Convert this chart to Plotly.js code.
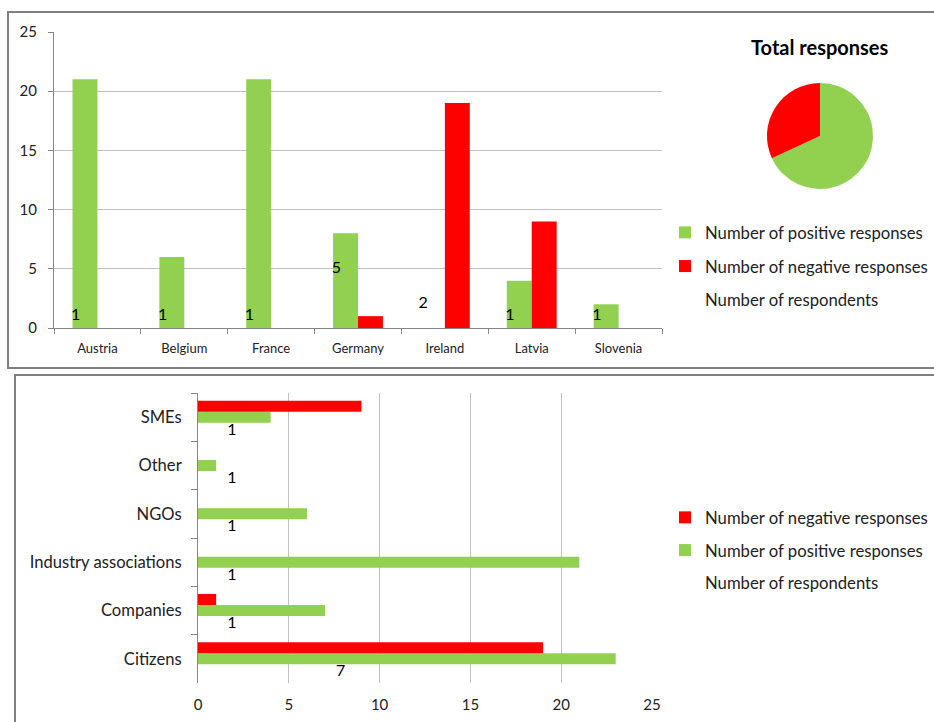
<!DOCTYPE html>
<html>
<head>
<meta charset="utf-8">
<script src="https://cdn.plot.ly/plotly-3.0.1.min.js"></script>
<style>
html,body{margin:0;padding:0;background:#fff;}
#chart{width:934px;height:722px;}
</style>
</head>
<body>
<div id="chart"></div>
<script>
// ---- Data: top chart (by country) ----
const countries = ["Austria","Belgium","France","Germany","Ireland","Latvia","Slovenia"];
const countryPositive = [21, 6, 21, 8, 0, 4, 2];
const countryNegative = [0, 0, 0, 1, 19, 9, 0];
const countryRespondents = [1, 1, 1, 5, 2, 1, 1];

// ---- Data: bottom chart (by stakeholder type) ----
const groups = ["Citizens","Companies","Industry associations","NGOs","Other","SMEs"];
const groupPositive = [23, 7, 21, 6, 1, 4];
const groupNegative = [19, 1, 0, 0, 0, 9];
const groupRespondents = [7, 1, 1, 1, 1, 1];

// ---- Labels ----
const posName = "Number of positive responses";
const negName = "Number of negative responses";
const respName = "Number of respondents";
const pieTitle = "Total responses";
const yTicks = [0, 5, 10, 15, 20, 25];

// ---- Styles ----
const GREEN = "#92D050", RED = "#FF0000";
const FONT = "Lato, 'Liberation Sans', Arial, sans-serif";
const W = 934, H = 722;
const px = v => v / W, py = v => 1 - v / H;

const totalPos = countryPositive.reduce((a, b) => a + b, 0);
const totalNeg = countryNegative.reduce((a, b) => a + b, 0);

const topW = 0.287, botW = 0.228;
const labelShift = -0.25;

const traces = [
  // top chart
  {type:"bar", x:countries, y:countryPositive, name:posName, marker:{color:GREEN},
   width:topW, offset:-topW, xaxis:"x", yaxis:"y", legend:"legend", legendgroup:"a", legendrank:1, hoverinfo:"y"},
  {type:"bar", x:countries, y:countryNegative, name:negName, marker:{color:RED},
   width:topW, offset:0, xaxis:"x", yaxis:"y", legend:"legend", legendgroup:"b", legendrank:2, hoverinfo:"y"},
  {type:"scatter", mode:"text", x:countries.map((c, i) => i + labelShift), y:countryRespondents,
   text:countryRespondents.map(String), textposition:"middle center",
   textfont:{size:16, color:"#000", family:FONT}, xaxis:"x3", yaxis:"y", showlegend:false, cliponaxis:false, hoverinfo:"text"},
  {type:"scatter", mode:"markers", x:[null], y:[null], name:respName,
   marker:{color:"rgba(0,0,0,0)", size:1}, xaxis:"x3", yaxis:"y", legend:"legend", legendgroup:"c", legendrank:3},
  // pie
  {type:"pie", labels:[posName, negName], values:[totalPos, totalNeg],
   marker:{colors:[GREEN, RED]}, sort:false, direction:"clockwise", rotation:0,
   textinfo:"none", showlegend:false,
   domain:{x:[px(767), px(873)], y:[py(189), py(83)]}},
  // bottom chart
  {type:"bar", orientation:"h", y:groups, x:groupRespondents, name:respName,
   marker:{color:"rgba(0,0,0,0)"}, width:botW, offset:-1.5*botW,
   text:groupRespondents.map(String), texttemplate:"\u2002%{text}",
   textposition:"outside", cliponaxis:false, constraintext:"none",
   textfont:{size:16, color:"#000", family:FONT},
   outsidetextfont:{size:16, color:"#000", family:FONT},
   xaxis:"x2", yaxis:"y2", legend:"legend2", legendgroup:"r", legendrank:3, hoverinfo:"x"},
  {type:"bar", orientation:"h", y:groups, x:groupPositive, name:posName,
   marker:{color:GREEN}, width:botW, offset:-0.5*botW,
   xaxis:"x2", yaxis:"y2", legend:"legend2", legendgroup:"p", legendrank:2, hoverinfo:"x"},
  {type:"bar", orientation:"h", y:groups, x:groupNegative, name:negName,
   marker:{color:RED}, width:botW, offset:0.5*botW,
   xaxis:"x2", yaxis:"y2", legend:"legend2", legendgroup:"n", legendrank:1, hoverinfo:"x"}
];

const gridC = "#c0c0c0", axisC = "#868686";

const layout = {
  width:W, height:H,
  margin:{l:0, r:0, t:0, b:0},
  paper_bgcolor:"#fff", plot_bgcolor:"rgba(0,0,0,0)",
  font:{family:FONT, color:"#000", size:15},
  barmode:"group",
  showlegend:true,
  xaxis:{domain:[px(54), px(662)], anchor:"y", type:"category", automargin:false,
    tickson:"boundaries", ticks:"outside", ticklen:5, tickcolor:axisC,
    showline:true, linecolor:axisC, linewidth:1, showgrid:false, ticklabelstandoff:8,
    tickfont:{size:13, color:"#222"}, range:[-0.5, countries.length - 0.5], fixedrange:true},
  xaxis3:{overlaying:"x", anchor:"y", type:"linear", range:[-0.5, countries.length - 0.5],
    visible:false, domain:[px(54), px(662)], fixedrange:true},
  yaxis:{domain:[py(328), py(32)], anchor:"x", range:[0, 25], tickvals:yTicks, automargin:false,
    ticks:"outside", ticklen:5, tickcolor:axisC, showline:true, linecolor:axisC, linewidth:1,
    showgrid:true, gridcolor:gridC, gridwidth:1, zeroline:false, ticklabelstandoff:8,
    tickfont:{size:15, color:"#222"}, fixedrange:true},
  xaxis2:{domain:[px(198), px(652)], anchor:"y2", range:[0, 25], tickvals:yTicks, automargin:false,
    showgrid:true, gridcolor:gridC, gridwidth:1, zeroline:false, showline:false, ticks:"",
    tickfont:{size:15, color:"#222"}, ticklabelstandoff:11, fixedrange:true},
  yaxis2:{domain:[py(683), py(393)], anchor:"x2", type:"category", automargin:false,
    tickson:"boundaries", ticks:"outside", ticklen:6, tickcolor:axisC,
    showline:true, linecolor:axisC, linewidth:1, showgrid:false,
    range:[-0.5, groups.length - 0.5], ticklabelstandoff:12,
    tickfont:{size:16.6, color:"#222"}, fixedrange:true},
  legend:{x:px(665), y:py(215), xanchor:"left", yanchor:"top", bgcolor:"rgba(0,0,0,0)",
    font:{size:16.7, color:"#222"}, traceorder:"grouped", tracegroupgap:9, itemwidth:30, itemclick:false},
  legend2:{x:px(665), y:py(500), xanchor:"left", yanchor:"top", bgcolor:"rgba(0,0,0,0)",
    font:{size:16.7, color:"#222"}, traceorder:"grouped", tracegroupgap:8, itemwidth:30, itemclick:false},
  annotations:[
    {text:"<b>" + pieTitle + "</b>", x:px(820), y:py(47), xref:"paper", yref:"paper",
     showarrow:false, font:{size:20, color:"#000"}, xanchor:"center", yanchor:"middle"}
  ],
  shapes:[
    {type:"rect", xref:"paper", yref:"paper", x0:px(8), x1:1.05, y0:py(368), y1:py(12),
     line:{color:"#7f7f7f", width:2}, layer:"below"},
    {type:"rect", xref:"paper", yref:"paper", x0:px(15), x1:1.05, y0:-0.05, y1:py(375),
     line:{color:"#7f7f7f", width:2}, layer:"below"}
  ]
};

Plotly.newPlot("chart", traces, layout, {displayModeBar:false, staticPlot:false});
</script>
</body>
</html>
